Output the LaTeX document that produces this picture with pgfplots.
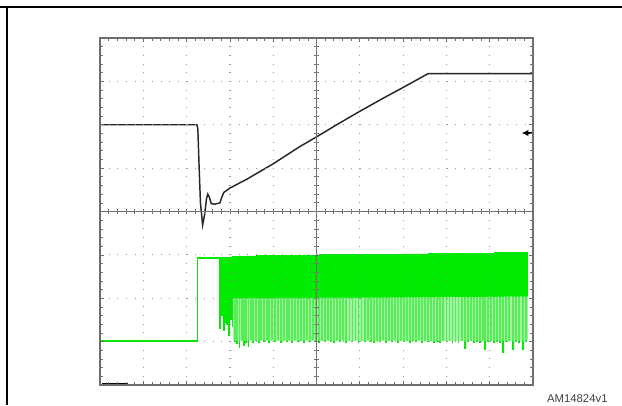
\documentclass[border=0pt]{standalone}
\usepackage{fontspec}
\setmainfont{Liberation Sans}
\usepackage{pgfplots}
\pgfplotsset{compat=1.18}
\usetikzlibrary{arrows.meta}
\definecolor{scopegreen}{RGB}{0,235,0}
\definecolor{lightband}{RGB}{125,238,125}
\definecolor{gridgray}{RGB}{150,150,150}
\definecolor{framegray}{RGB}{110,110,110}

% black trace (output voltage)
\pgfplotstableread{
x y
0.00 6.00
2.24 6.00
2.26 5.90
2.29 5.00
2.32 4.20
2.37 3.69
2.42 3.95
2.46 4.30
2.49 4.40
2.53 4.32
2.57 4.18
2.65 4.17
2.77 4.20
2.81 4.32
2.86 4.44
3.00 4.54
3.40 4.75
4.00 5.10
4.62 5.50
5.00 5.72
5.50 6.02
6.00 6.31
6.50 6.59
7.00 6.86
7.58 7.18
10.00 7.18
}\outv

% lower and upper switching bands of the green trace
\pgfplotstableread{
x y
3.07 1.02
3.07 2.00
9.88 2.04
9.88 1.02
3.07 1.02
}\lowband
\pgfplotstableread{
x y
3.07 1.98
3.07 2.97
6.00 3.01
9.88 3.05
9.88 2.04
3.07 1.98
}\highband

% green trace: pulses, x of falling edge and bottom level
\pgfplotstableread{
x y
2.76 2.93
2.77 1.30
2.79 2.93
2.81 1.60
2.83 2.93
2.85 1.25
2.87 2.94
2.89 1.45
2.91 2.94
2.93 1.40
2.95 2.94
2.97 1.15
2.99 2.95
3.01 1.50
3.03 2.95
3.05 1.35
3.07 2.97
3.10 1.00
3.12 2.97
3.16 0.95
3.18 2.97
3.21 0.86
3.23 2.97
3.27 1.02
3.29 2.97
3.31 0.92
3.33 2.97
3.37 0.98
3.39 2.97
3.42 0.90
3.44 2.97
3.48 1.05
3.50 2.97
3.53 0.97
3.55 2.97
3.60 1.03
3.62 2.98
3.66 0.99
3.68 2.98
3.71 1.06
3.73 2.98
3.78 1.00
3.80 2.98
3.84 1.04
3.86 2.98
3.90 0.98
3.92 2.98
3.97 1.05
3.99 2.98
4.03 1.01
4.05 2.98
4.10 1.04
4.12 2.98
4.16 0.99
4.18 2.98
4.23 1.03
4.25 2.98
4.30 1.00
4.32 2.99
4.36 1.05
4.38 2.99
4.43 0.98
4.45 2.99
4.50 1.04
4.52 2.99
4.57 1.01
4.59 2.99
4.63 1.03
4.65 2.99
4.70 0.99
4.72 2.99
4.77 1.04
4.79 2.99
4.84 1.00
4.86 2.99
4.91 1.05
4.93 2.99
4.98 1.02
5.00 2.99
5.05 0.99
5.07 3.00
5.12 1.03
5.14 3.00
5.19 1.00
5.21 3.00
5.26 1.04
5.28 3.00
5.33 1.01
5.35 3.00
5.40 0.98
5.42 3.00
5.47 1.03
5.49 3.00
5.54 1.00
5.56 3.00
5.61 1.05
5.63 3.00
5.68 0.99
5.70 3.00
5.75 1.03
5.77 3.00
5.82 1.01
5.84 3.00
5.89 1.04
5.91 3.00
5.96 0.98
5.98 3.00
6.03 1.02
6.05 3.01
6.10 1.00
6.12 3.01
6.17 1.05
6.19 3.01
6.24 1.01
6.26 3.01
6.31 0.97
6.33 3.01
6.38 1.03
6.40 3.01
6.45 1.00
6.47 3.01
6.52 1.04
6.54 3.01
6.59 0.99
6.61 3.01
6.66 1.02
6.68 3.01
6.73 1.00
6.75 3.01
6.80 1.04
6.82 3.02
6.87 0.98
6.89 3.02
6.94 1.02
6.96 3.02
7.01 1.00
7.03 3.02
7.08 1.03
7.10 3.02
7.15 0.99
7.17 3.02
7.22 1.02
7.24 3.02
7.29 1.00
7.31 3.02
7.36 1.04
7.38 3.02
7.43 0.98
7.45 3.02
7.50 1.02
7.52 3.02
7.57 1.00
7.59 3.03
7.64 1.03
7.66 3.03
7.71 0.99
7.73 3.03
7.78 1.01
7.80 3.03
7.85 0.97
7.87 3.03
7.92 1.02
7.94 3.03
7.99 1.00
8.01 3.03
8.06 1.03
8.08 3.03
8.13 0.98
8.15 3.03
8.20 1.01
8.22 3.03
8.27 0.99
8.29 3.04
8.34 1.02
8.36 3.04
8.42 0.85
8.44 3.04
8.49 1.00
8.51 3.04
8.56 1.03
8.58 3.04
8.63 0.99
8.65 3.04
8.70 1.01
8.72 3.04
8.77 0.98
8.79 3.04
8.84 1.02
8.86 3.04
8.88 0.82
8.90 3.04
8.95 1.00
8.97 3.04
9.02 1.03
9.04 3.04
9.09 0.99
9.11 3.05
9.16 1.01
9.18 3.05
9.23 0.98
9.25 3.05
9.30 0.74
9.32 3.05
9.37 1.00
9.39 3.05
9.44 1.02
9.46 3.05
9.53 0.81
9.55 3.05
9.60 1.00
9.62 3.05
9.67 0.98
9.69 3.05
9.76 0.83
9.78 3.05
9.83 1.00
9.85 3.05
9.88 3.05
}\pulses

\begin{document}
\begin{tikzpicture}
\path[use as bounding box] (0,0) rectangle (466.5pt,303.75pt);
\draw[line width=1.9pt] (0,298.5pt) -- (466.5pt,298.5pt);
\draw[line width=1.9pt] (5.25pt,298.5pt) -- (5.25pt,0);
\node[text=black!75, font=\fontsize{8.5}{10}\selectfont] at (433pt,4.5pt) {AM14824v1};

\begin{axis}[
  at={(75pt,15pt)}, anchor=south west,
  scale only axis, width=324.75pt, height=260.25pt,
  xmin=0, xmax=10, ymin=0, ymax=8,
  xtick={0,...,10}, ytick={0,...,8},
  xticklabels={}, yticklabels={},
  minor x tick num=4, minor y tick num=4,
  tick align=inside, major tick length=3pt, minor tick length=2.2pt,
  tick style={framegray, line width=0.5pt},
  axis line style={framegray, line width=0.8pt},
  grid=major,
  major grid style={gridgray, line width=0.9pt, dash pattern=on 0.6pt off 5.9pt},
  axis on top,
  clip=false,
]
% green trace: low level, step up, then pulses
\addplot[color=scopegreen, line width=1.2pt] coordinates {(0,1.02)(2.25,1.02)(2.25,2.93)(2.77,2.93)};
\addplot[color=scopegreen, line width=0.7pt, const plot] table {\pulses};
% switching bands
\addplot[draw=none, fill=scopegreen] table {\highband};
\addplot[draw=none, fill=lightband, fill opacity=0.7] table {\lowband};
% black trace
\addplot[black!85, line width=1.1pt] table {\outv};
% centre graticule lines with their small ticks
\draw[framegray, line width=0.6pt] (axis cs:0,4) -- (axis cs:10,4);
\draw[framegray, line width=0.6pt] (axis cs:5,0) -- (axis cs:5,8);
\pgfplotsinvokeforeach{1,...,49}{
  \draw[framegray, line width=0.5pt] ([shift={(#1*6.495pt,-2pt)}]axis cs:0,4) -- ++(0,4pt);
}
\pgfplotsinvokeforeach{1,...,39}{
  \draw[framegray, line width=0.5pt] ([shift={(-2pt,#1*6.50625pt)}]axis cs:5,0) -- ++(4pt,0);
}
% scope markers
\draw[line width=1.6pt] (axis cs:0,3.86) -- (axis cs:0,4.10);
\draw[line width=1.5pt] (axis cs:0.04,0.03) -- (axis cs:0.65,0.03);
\draw[line width=1pt, -{Latex[length=5pt,width=5pt]}] (axis cs:9.97,5.81) -- (axis cs:9.74,5.81);
\end{axis}
\end{tikzpicture}
\end{document}
